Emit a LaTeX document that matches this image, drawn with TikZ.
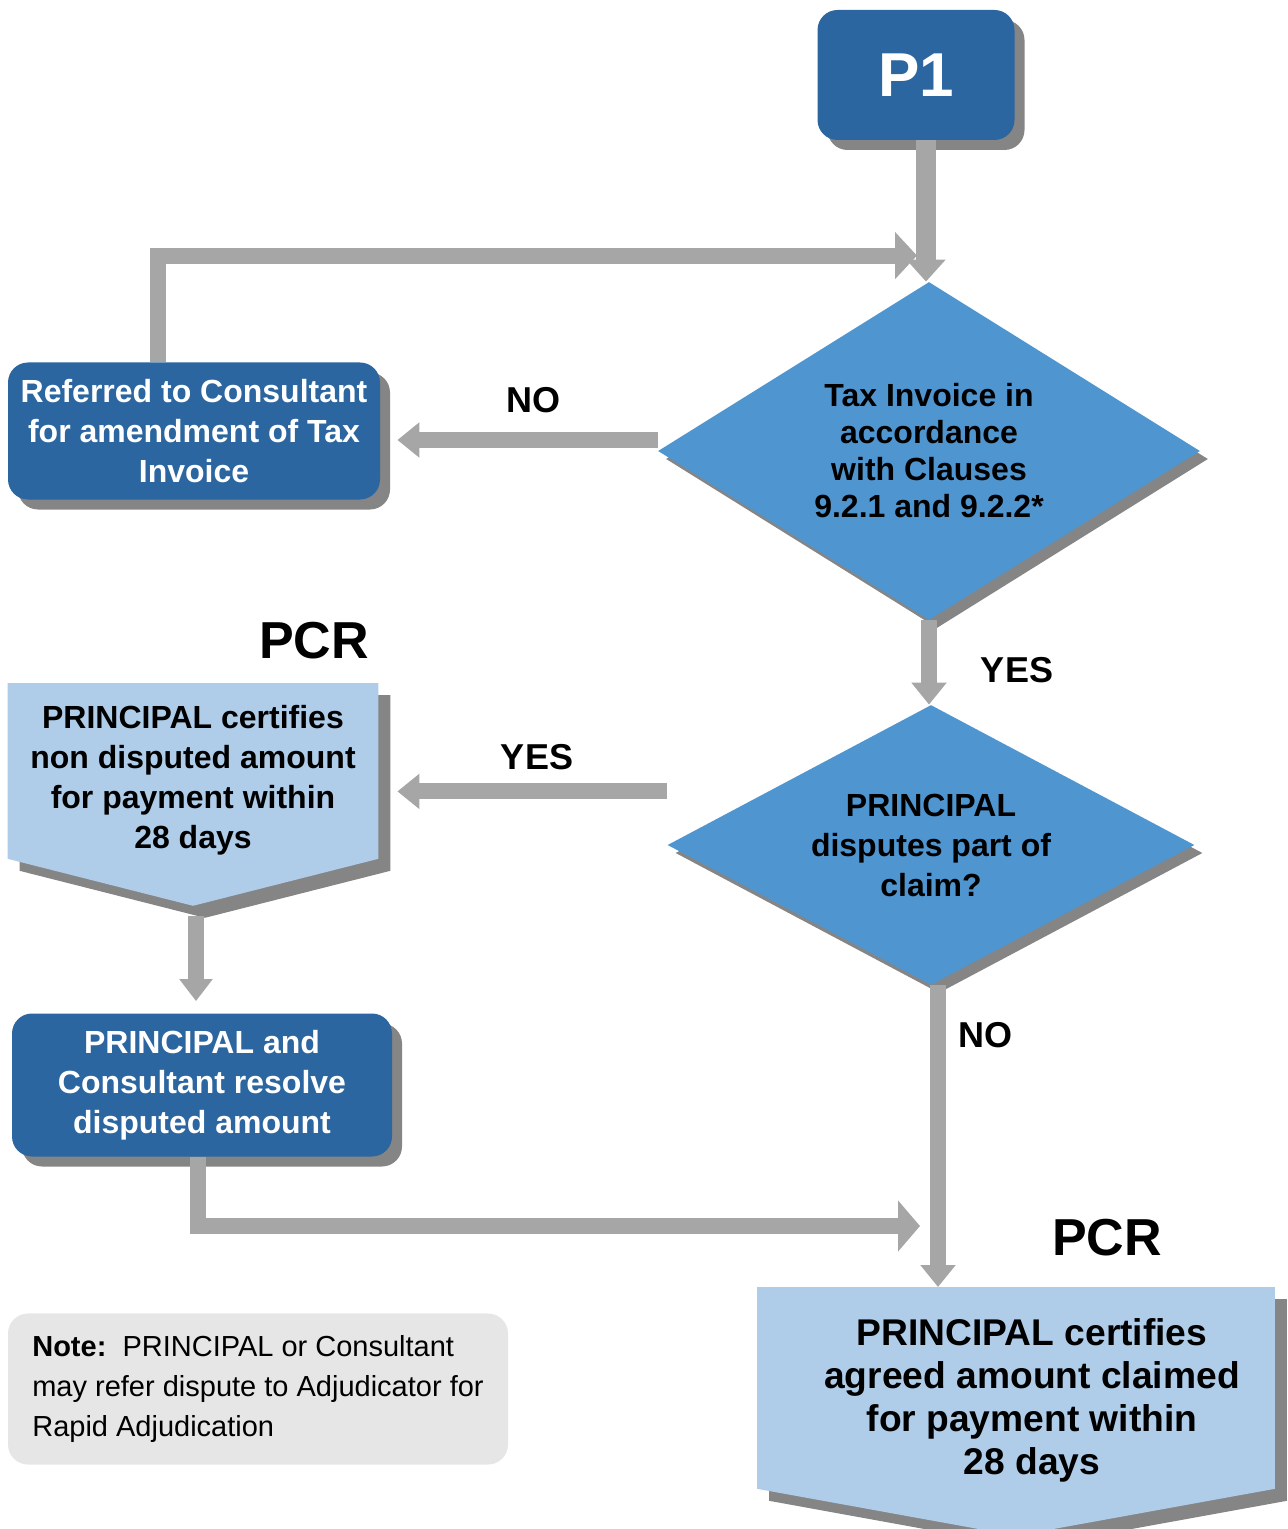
\documentclass[tikz,border=0pt]{standalone}
\usepackage{fontspec}
\setmainfont{Liberation Sans}
\usetikzlibrary{arrows.meta,positioning,shapes.geometric,shadows,backgrounds}
\definecolor{boxblue}{RGB}{44,102,160}
\definecolor{diablue}{RGB}{79,149,208}
\definecolor{paleblue}{RGB}{175,205,233}
\definecolor{flowgray}{RGB}{166,166,166}
\definecolor{shadegray}{RGB}{133,133,133}
\definecolor{notegray}{RGB}{230,230,230}
\tikzset{
  darkbox/.style={rectangle, rounded corners=10pt, fill=boxblue, text=white, align=center,
    inner sep=0pt, font=\fontsize{16}{20}\selectfont\bfseries,
    drop shadow={shadow xshift=5pt, shadow yshift=-5pt, fill=shadegray, opacity=1}},
  decision/.style={diamond, aspect=1.6, fill=diablue, align=center, inner sep=0pt,
    font=\fontsize{16}{18.5}\selectfont\bfseries,
    drop shadow={shadow xshift=4pt, shadow yshift=-4pt, fill=shadegray, opacity=1}},
  certbox/.style={rectangle, anchor=north, align=center, inner sep=0pt,
    font=\fontsize{16}{20}\selectfont\bfseries},
  certshade/.style={fill=shadegray, transform canvas={xshift=6pt, yshift=-6pt}},
  notebox/.style={rectangle, rounded corners=10pt, fill=notegray, align=left,
    inner sep=11pt, font=\fontsize{14.5}{20}\selectfont},
  tag/.style={font=\fontsize{18}{18}\selectfont\bfseries},
  pcr/.style={font=\fontsize{26}{26}\selectfont\bfseries},
  flow/.style={draw=flowgray, line width=8pt, -{Triangle[length=11pt,width=#1]}},
  flow/.default=17pt,
  x=0.5pt, y=-0.5pt}

\begin{document}
\begin{tikzpicture}
    \useasboundingbox (0,0) rectangle (1288,1529);

    % boxes
    \node[darkbox, minimum width=98.5pt, minimum height=65pt,
          font=\fontsize{31}{31}\selectfont\bfseries] (p1) at (916,75) {P1};
    \node[decision, minimum width=271pt, minimum height=169pt] (tax) at (929,451)
        {Tax Invoice in\\accordance\\with Clauses\\9.2.1 and 9.2.2*};
    \node[darkbox, minimum width=186pt, minimum height=68.5pt] (refer) at (194,431)
        {Referred to Consultant\\for amendment of Tax\\Invoice};
    \node[decision, minimum width=263.5pt, minimum height=140pt,
          font=\fontsize{16}{20}\selectfont\bfseries] (disp) at (931,845)
        {PRINCIPAL\\disputes part of\\claim?};
    \node[certbox, minimum width=185pt, minimum height=97pt] (cert1) at (193,683)
        {PRINCIPAL certifies\\non disputed amount\\for payment within\\28 days};
    \node[darkbox, minimum width=190pt, minimum height=71.5pt] (resolve) at (202,1085)
        {PRINCIPAL and\\Consultant resolve\\disputed amount};
    \node[certbox, minimum width=258.5pt, minimum height=112.5pt,
          font=\fontsize{18.6}{21.5}\selectfont\bfseries] (cert2) at (1032,1287)
        {PRINCIPAL certifies\\agreed amount claimed\\for payment within\\28 days};
    \node[notebox, minimum width=250pt, minimum height=73pt] (note) at (258,1389)
        {\textbf{Note:}\ \ PRINCIPAL or Consultant\\may refer dispute to Adjudicator for\\Rapid Adjudication};

    % pentagon shapes behind the certify nodes
    \begin{scope}[on background layer]
        \fill[certshade] (cert1.north west) -- (cert1.north east)
            -- ([yshift=9.5pt]cert1.south east) -- ([yshift=-14pt]cert1.south)
            -- ([yshift=9.5pt]cert1.south west) -- cycle;
        \fill[paleblue] (cert1.north west) -- (cert1.north east)
            -- ([yshift=9.5pt]cert1.south east) -- ([yshift=-14pt]cert1.south)
            -- ([yshift=9.5pt]cert1.south west) -- cycle;
        \fill[certshade] ([xshift=-8pt]cert2.north west) -- ([xshift=-8pt]cert2.north east)
            -- ([xshift=-8pt, yshift=12pt]cert2.south east) -- ([xshift=-8pt, yshift=-11.5pt]cert2.south)
            -- ([xshift=-8pt, yshift=12pt]cert2.south west) -- cycle;
        \fill[paleblue] ([xshift=-8pt]cert2.north west) -- ([xshift=-8pt]cert2.north east)
            -- ([xshift=-8pt, yshift=12pt]cert2.south east) -- ([xshift=-8pt, yshift=-11.5pt]cert2.south)
            -- ([xshift=-8pt, yshift=12pt]cert2.south west) -- cycle;
    \end{scope}

    % labels
    \node[tag] (no1) at (533,400) {NO};
    \node[tag] (yes1) at (1017,670) {YES};
    \node[tag] (yes2) at (537,757) {YES};
    \node[tag] (no2) at (985,1035) {NO};
    \node[pcr] (pcr1) at (314,641) {PCR};
    \node[pcr] (pcr2) at (1107,1238) {PCR};

    % connectors
    \coordinate (loopin) at ([xshift=-6pt, yshift=13pt]tax.north);
    \coordinate (joinpt) at (920,1226);
    \draw[flow=19pt, line width=10pt] ([xshift=-1.5pt]tax.north |- p1.south) -- ([xshift=-1.5pt]tax.north);
    \draw[flow=23pt] ([xshift=-18pt]refer.north) |- (loopin);
    \draw[flow, shorten >=8.5pt] ([yshift=5.5pt]tax.west) -- ([yshift=5.5pt]tax.west -| refer.east);
    \draw[flow] (tax.south) -- (tax.south |- disp.north);
    \draw[flow, shorten >=9.5pt] ([yshift=-5.5pt]cert1.east -| disp.west) -- ([yshift=-5.5pt]cert1.east);
    \draw[flow=16pt, shorten >=6pt] ([xshift=1.5pt, yshift=-19pt]cert1.south) -- ([xshift=1.5pt]cert1.south |- resolve.north);
    \draw[flow=25pt] ([xshift=-2pt]resolve.south) |- (joinpt);
    \draw[flow] ([xshift=3.5pt]disp.south) -- ([xshift=3.5pt]disp.south |- cert2.north);
\end{tikzpicture}
\end{document}
